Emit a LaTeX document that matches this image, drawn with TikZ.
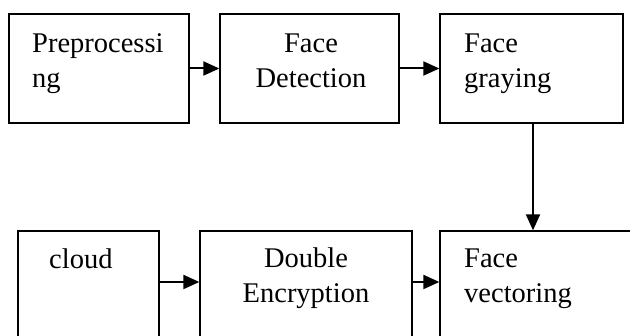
\documentclass[tikz,border=0pt]{standalone}
\usepackage{fontspec}
\setmainfont{Liberation Serif}
\usetikzlibrary{arrows.meta}
\newlength{\du}
\setlength{\du}{1pt}
\tikzset{
  stage/.style={draw, line width=1.3pt, minimum width=#1, minimum height=109pt, inner sep=0pt},
  caption/.style={anchor=base west, inner sep=0pt, align=left, font=\fontsize{28.5}{35}\selectfont},
  midcaption/.style={caption, anchor=base, align=center},
  flow/.style={line width=2pt, -{Triangle[length=16pt,width=14pt]}}
}

\begin{document}
\begin{tikzpicture}
\pgftransformxscale{1.000000}
\pgftransformyscale{-1.000000}
\useasboundingbox (0\du,0\du) rectangle (630\du,336\du);
\clip (0\du,0\du) rectangle (630\du,336\du);
% top row
\node[stage=180pt] (pre) at (99\du,68.5\du) {};
\node[stage=179pt] (det) at (309.5\du,68.5\du) {};
\node[stage=183pt] (gray) at (531.5\du,68.5\du) {};
% bottom row, cut by the lower edge
\node[stage=141pt, minimum height=140pt] (cloud) at (88.5\du,301\du) {};
\node[stage=212pt, minimum height=140pt] (enc) at (306\du,301\du) {};
\node[stage=200pt, minimum height=140pt] (vec) at (540\du,301\du) {};
% setfont left to latex (base = last line)
\node[caption] (preText) at (32\du,88\du) {Preprocessi\\ng};
\node[midcaption] (detText) at (311\du,88\du) {Face\\Detection};
\node[caption] (grayText) at (464\du,88\du) {Face\\graying};
\node[caption] (cloudText) at (49\du,269\du) {cloud};
\node[midcaption] (encText) at (306\du,302.5\du) {Double\\Encryption};
\node[caption] (vecText) at (464\du,302.5\du) {Face\\vectoring};
% arrows
\coordinate (drop) at (533\du,0\du);
\draw[flow] (pre) -- (det);
\draw[flow] (det) -- (gray);
\draw[flow] (gray.south -| drop) -- (vec.north -| drop);
\draw[flow] ([yshift=-19pt]cloud.east) -- ([yshift=-19pt]enc.west);
\draw[flow] ([yshift=-19pt]enc.east) -- ([yshift=-19pt]vec.west);
\end{tikzpicture}
\end{document}
